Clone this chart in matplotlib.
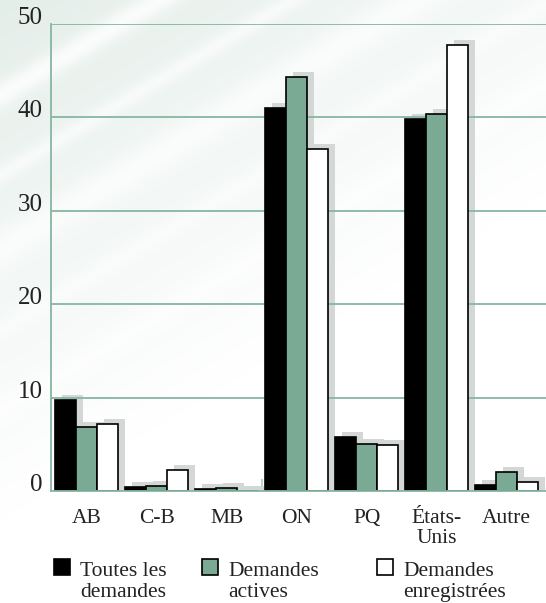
import numpy as np
import matplotlib
matplotlib.use("Agg")
import matplotlib.pyplot as plt
from matplotlib.transforms import ScaledTranslation
from matplotlib.patches import Rectangle
from matplotlib.legend_handler import HandlerPatch

# ---- data ----
categories = ["AB", "C-B", "MB", "ON", "PQ", "États-\nUnis", "Autre"]
toutes = [9.7, 0.4, 0.25, 41.0, 5.8, 39.8, 0.65]
actives = [6.9, 0.5, 0.3, 44.3, 5.05, 40.4, 2.0]
enregistrees = [7.2, 2.2, 0.05, 36.6, 4.95, 47.75, 1.0]
series_labels = ["Toutes les\ndemandes", "Demandes\nactives", "Demandes\nenregistrées"]
yticks = [0, 10, 20, 30, 40, 50]

plt.rcParams['font.family'] = ['Liberation Serif', 'DejaVu Serif']
plt.rcParams['font.size'] = 15.5
TEXT = '#222222'
GRID = '#86b6a2'
GREEN = '#7aaa94'
SHADOW = '#d3d7d6'
TICKC = '#a9cdbd'
FS = 15.5

W, H = 546, 603
fig = plt.figure(figsize=(W / 100, H / 100), dpi=100)
fig.patch.set_facecolor('white')

# ---- background gradient with diagonal streaks ----
bg = fig.add_axes([0, 0, 1, 1], zorder=-10)
yy, xx = np.mgrid[0:H, 0:W].astype(float)
s = 0.6 * xx + yy
base = np.clip(1 - s / 520.0, 0, 1) ** 1.0
streak = np.zeros_like(s)
for c, w, a in [(95, 14, 0.8), (175, 10, 0.6), (250, 22, 0.7), (330, 12, 0.5), (410, 18, 0.5)]:
    streak += a * np.exp(-((s - c) / w) ** 2)
streak = np.clip(streak, 0, 1)
amt = base * (1 - streak)
white = np.array([1.0, 1.0, 1.0])
tint = np.array([228, 238, 233]) / 255.0
img = white[None, None, :] - amt[:, :, None] * (white - tint)[None, None, :]
bg.imshow(img, aspect='auto', extent=[0, 1, 0, 1], origin='upper')
bg.axis('off')

# ---- main axes ----
left_px, right_px, top_px, bottom_px = 51, 546, 24, 491
ax = fig.add_axes([left_px / W, (H - bottom_px) / H,
                   (right_px - left_px) / W, (bottom_px - top_px) / H])
ax.patch.set_alpha(0)

x = np.arange(len(categories))
width = 0.3
offsets = [-width, 0, width]
series = [toutes, actives, enregistrees]
faces = ['black', GREEN, 'white']

shadow_tr = ax.transData + ScaledTranslation(6.5 / 100, 5 / 100, fig.dpi_scale_trans)
for off, vals in zip(offsets, series):
    v = np.asarray(vals)
    sh = ax.bar(x + off, v + 1, width, bottom=-1, color=SHADOW, linewidth=0, zorder=0.6)
    for p in sh:
        p.set_transform(shadow_tr)

handles = []
for off, vals, fc in zip(offsets, series, faces):
    b = ax.bar(x + off, vals, width, color=fc, edgecolor='black', linewidth=1.2, zorder=1)
    handles.append(b)

for t in yticks[1:]:
    ax.axhline(t, color=GRID, linewidth=1.3, zorder=0.7)

ax.set_xlim(-0.51, 6.561)
ax.set_ylim(0, 50)

ax.set_yticks(yticks, labels=[str(t) for t in yticks], va='baseline')
ax.tick_params(axis='y', length=0, pad=6, colors=TEXT, labelsize=18)
ax.set_xticks(x, labels=categories, linespacing=1.05)
ax.tick_params(axis='x', which='major', length=0, pad=13, colors=TEXT, labelsize=FS)
ax.set_xticks(np.arange(len(categories) - 1) + 0.5, minor=True)
ax.tick_params(axis='x', which='minor', direction='in', length=8.5, width=1.2, color=TICKC)
ax.set_axisbelow(True)

for sp in ['top', 'right']:
    ax.spines[sp].set_visible(False)
for sp in ['left', 'bottom']:
    ax.spines[sp].set_color(GRID)
    ax.spines[sp].set_linewidth(1.3)


# ---- legend (three separate entries), square aligned with first text line ----
def top_square(legend, orig_handle, xdescent, ydescent, width, height, fontsize):
    return Rectangle((-xdescent, -ydescent + 0.66 * fontsize), width, height)


leg_pos = [54, 202, 377]
legs = []
for h, lab, xp in zip(handles, series_labels, leg_pos):
    lg = ax.legend([h.patches[0]], [lab], loc='upper left',
                   bbox_to_anchor=(xp / W, (H - 562) / H), bbox_transform=fig.transFigure,
                   frameon=False, borderpad=0, borderaxespad=0, handlelength=0.72,
                   handleheight=0.72, handletextpad=0.5, fontsize=FS, labelcolor=TEXT,
                   labelspacing=0,
                   handler_map={Rectangle: HandlerPatch(patch_func=top_square)})
    for t in lg.get_texts():
        t.set_linespacing(1.12)
    legs.append(lg)
for lg in legs[:-1]:
    ax.add_artist(lg)

fig.savefig('out.png', dpi=100, facecolor=fig.get_facecolor())
